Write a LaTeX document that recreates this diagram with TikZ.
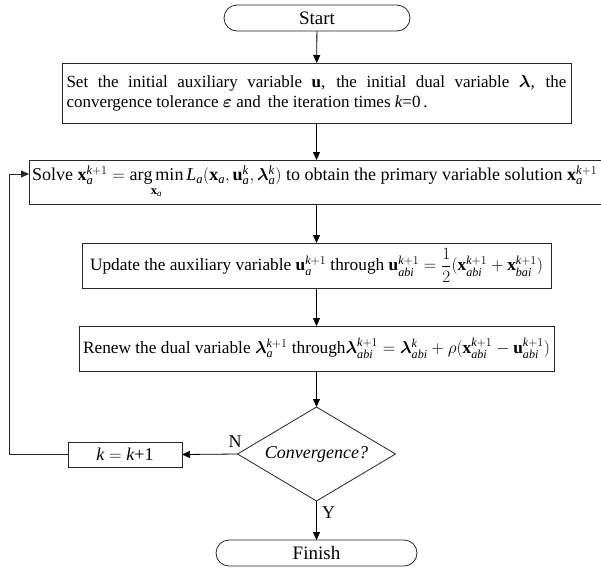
\documentclass[tikz,border=0pt]{standalone}
\usepackage{amsmath}
\usepackage{bm}
\usepackage{fontspec}
\setmainfont{Liberation Serif}
\DeclareSymbolFont{tuit}{TU}{\rmdefault}{m}{it}
\DeclareMathSymbol{a}{\mathalpha}{tuit}{`a}
\DeclareMathSymbol{b}{\mathalpha}{tuit}{`b}
\DeclareMathSymbol{i}{\mathalpha}{tuit}{`i}
\DeclareMathSymbol{k}{\mathalpha}{tuit}{`k}
\DeclareMathSymbol{L}{\mathalpha}{tuit}{`L}
\usetikzlibrary{arrows.meta,shapes.geometric}
\begin{document}
\begin{tikzpicture}[x=1pt,y=-1pt,
  every node/.style={inner sep=0pt,outer sep=0pt},
  box/.style={draw=black!85,line width=0.8pt,rectangle,inner xsep=4pt},
  term/.style={draw=black!85,line width=0.8pt,rectangle,rounded corners=13pt,
     font=\fontsize{19}{22}\selectfont},
  dec/.style={draw=black!85,line width=0.8pt,diamond,aspect=1.68,
     minimum width=158pt,minimum height=94pt,font=\fontsize{18}{21}\selectfont\itshape},
  arr/.style={draw=black,line width=0.8pt,-{Triangle[length=8pt,width=7pt]}},
  lbl/.style={font=\fontsize{18}{21}\selectfont}]
\useasboundingbox (0,0) rectangle (601,568);
\node[term,minimum width=186pt,minimum height=26pt] (start) at (317,18) {Start};
\node[box,minimum width=509pt,minimum height=60pt,text width=500pt,align=justify,
      font=\fontsize{17}{20}\selectfont] (init) at (316.5,93)
 {Set the initial auxiliary variable $\mathbf{u}$, the initial dual variable $\bm{\lambda}$, the\linebreak
  convergence tolerance $\bm{\varepsilon}$ and\, the iteration times $k$=0\,.};
\node[box,minimum width=574pt,minimum height=44pt,anchor=west,
      font=\fontsize{18}{21}\selectfont] (solve) at (29,182)
 {\hspace*{-1pt}Solve $\mathbf{x}_a^{k+1}=\mathop{\mathrm{arg\,min}}\limits_{\mathbf{x}_a} L_a(\mathbf{x}_a,\mathbf{u}_a^k,\bm{\lambda}_a^k)$ to obtain the primary variable solution $\mathbf{x}_a^{k+1}$\hspace*{6pt}};
\node[box,minimum width=469pt,minimum height=45pt,font=\fontsize{17.3}{20}\selectfont] (upd) at (316.5,265.5)
 {Update the auxiliary variable $\mathbf{u}_a^{k+1}$ through $\mathbf{u}_{abi}^{k+1}=\dfrac{1}{2}(\mathbf{x}_{abi}^{k+1}+\mathbf{x}_{bai}^{k+1})$};
\node[box,minimum width=469pt,minimum height=45pt,font=\fontsize{17.3}{20}\selectfont] (ren) at (316.5,348.5)
 {Renew the dual variable $\bm{\lambda}_a^{k+1}$ through$\bm{\lambda}_{abi}^{k+1}=\bm{\lambda}_{abi}^{k}+\rho(\mathbf{x}_{abi}^{k+1}-\mathbf{u}_{abi}^{k+1})$};
\node[dec] (conv) at (316.5,454) {Convergence?};
\node[box,minimum width=114pt,minimum height=25pt,font=\fontsize{18}{21}\selectfont] (kinc) at (125,454.5) {$k=k$+1};
\node[term,minimum width=201pt,minimum height=26pt] (fin) at (316.5,553) {Finish};
\coordinate (lc) at (9,174);
\draw[arr] (start) -- (init);
\draw[arr] (init.south) -- (init.south |- solve.north);
\draw[arr] (init.south |- solve.south) -- (upd);
\draw[arr] (upd) -- (ren);
\draw[arr] (ren) -- (conv);
\draw[arr] (conv.west) -- (kinc.east);
\draw[arr] (conv.south) -- (fin.north);
\draw[draw=black!85,line width=0.8pt,-{Triangle[length=8pt,width=7pt]}] (kinc.west) -| (lc) -- (lc -| solve.west);
\node[lbl] (nlab) at (235,442) {N};
\node[lbl] (ylab) at (328.5,513) {Y};
\end{tikzpicture}
\end{document}
